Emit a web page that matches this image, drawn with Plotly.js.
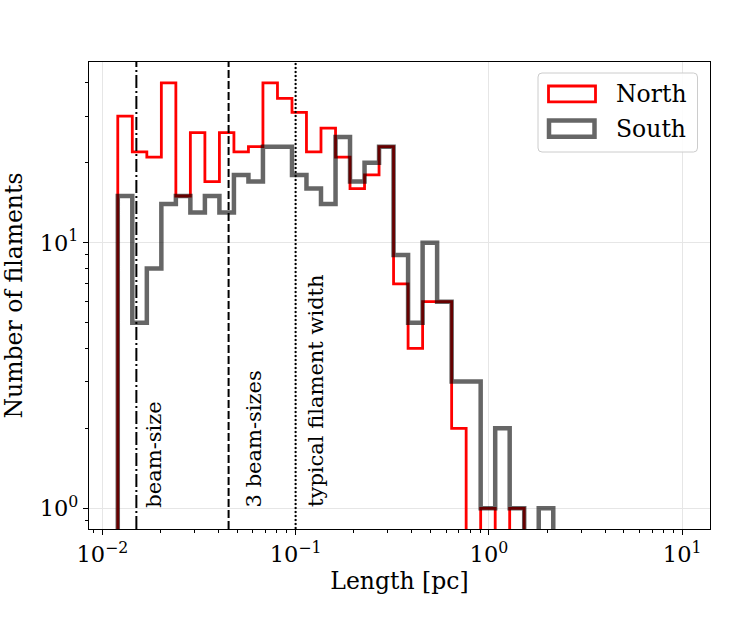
<!DOCTYPE html>
<html><head><meta charset="utf-8">
<script src="https://cdn.plot.ly/plotly-3.0.1.min.js"></script>
<style>html,body{margin:0;padding:0;background:#fff}#chart{width:747px;height:623px}</style>
</head><body><div id="chart"></div>
<script>
// ---- data ----
const binEdges = [0.01202,0.01429,0.01699,0.02020,0.02401,0.02854,0.03393,0.04034,0.04795,0.05701,
                  0.06776,0.08056,0.09577,0.1138,0.1353,0.1609,0.1912,0.2273,0.2702,0.3212,
                  0.3819,0.4540,0.5397,0.6416,0.7627,0.9067,1.078,1.281,1.523,1.811,2.153];
const northCounts = [30,22,21,40,15,26,17,26,22,23,40,35,31,22,27,21,16,18,23,7,4,6,6,2,0,1,0,1,0,0];
const southCounts = [15,5,8,14,15,13,15,13,18,17,23,23,18,16,14,25,17,20,23,9,5,10,6,3,3,1,2,1,0,1];
const seriesNames = ['North','South'];
const refLineValues = [0.015, 0.045, 0.1];
const refLineLabels = ['beam-size','3 beam-sizes','typical filament width'];
const refLineDash = ['13px,3px,2px,3px','8px,3px','2px,2px'];
const refLabelShift = [4, 11, 7];
const xTickVals = [0.01, 0.1, 1, 10];
const xTickText = ['10<sup>\u22122</sup>','10<sup>\u22121</sup>','10<sup>0</sup>','10<sup>1</sup>'];
const yTickVals = [1, 10];
const yTickText = ['10<sup>0</sup>','10<sup>1</sup>'];

const FONT = 'DejaVu Serif, serif';
const FLOOR = 0.01; // zero-count bins drop below the visible range (as a step histogram does on log scale)

function stepPath(edges, counts){
  const xs=[edges[0]], ys=[FLOOR];
  for(let i=0;i<counts.length;i++){
    const c = counts[i] > 0 ? counts[i] : FLOOR;
    xs.push(edges[i], edges[i+1]); ys.push(c, c);
  }
  xs.push(edges[edges.length-1]); ys.push(FLOOR);
  return {x:xs, y:ys};
}
function minorVals(k0, k1){
  const v=[];
  for(let k=k0;k<=k1;k++) for(let d=2; d<=9; d++) v.push(d*Math.pow(10,k));
  return v;
}

const n = stepPath(binEdges, northCounts);
const s = stepPath(binEdges, southCounts);
const traces = [
  {x:n.x, y:n.y, type:'scatter', mode:'lines', name:seriesNames[0], line:{color:'#ff0000', width:2.8}, hoverinfo:'skip', showlegend:false},
  {x:s.x, y:s.y, type:'scatter', mode:'lines', name:seriesNames[1], line:{color:'rgba(0,0,0,0.6)', width:4.5}, hoverinfo:'skip', showlegend:false}
];

// plot-area geometry (px) for paper conversions
const L=89, R=710, T=62, B=529, W=747, H=623;
const px = v => (v-L)/(R-L);
const py = v => (B-v)/(B-T);

const shapes = refLineValues.map((v,i)=>({type:'line', xref:'x', yref:'paper', x0:v, x1:v, y0:0, y1:1,
  line:{color:'black', width:2, dash:refLineDash[i]}, layer:'above'}));

function roundRect(x0,y0,x1,y1,r){
  const rx=r/(R-L), ry=r/(B-T);
  const a=px(x0), b=px(x1), top=py(y0), bot=py(y1);
  return `M${a+rx},${top} L${b-rx},${top} Q${b},${top} ${b},${top-ry} L${b},${bot+ry} Q${b},${bot} ${b-rx},${bot} L${a+rx},${bot} Q${a},${bot} ${a},${bot+ry} L${a},${top-ry} Q${a},${top} ${a+rx},${top} Z`;
}
shapes.push({type:'path', xref:'paper', yref:'paper', path:roundRect(538,73,697.5,152,4),
  fillcolor:'rgba(255,255,255,0.85)', line:{color:'#cccccc', width:1}, layer:'above'});
shapes.push({type:'rect', xref:'paper', yref:'paper', x0:px(548.5), x1:px(595.5), y0:py(86), y1:py(101.8),
  line:{color:'#ff0000', width:2.8}, fillcolor:'rgba(0,0,0,0)', layer:'above'});
shapes.push({type:'rect', xref:'paper', yref:'paper', x0:px(549), x1:px(594.5), y0:py(120.5), y1:py(136.8),
  line:{color:'rgba(0,0,0,0.6)', width:4.5}, fillcolor:'rgba(0,0,0,0)', layer:'above'});

const annotations = refLineValues.map((v,i)=>({x:Math.log10(v), y:0, xref:'x', yref:'y', text:refLineLabels[i],
  textangle:-90, xanchor:'left', yanchor:'bottom', showarrow:false, xshift:refLabelShift[i], yshift:-1,
  font:{family:FONT, size:21, color:'black'}}));
annotations.push({x:px(614), y:py(94), xref:'paper', yref:'paper', text:seriesNames[0], xanchor:'left', yanchor:'middle', showarrow:false, font:{family:FONT, size:23.5, color:'black'}});
annotations.push({x:px(614), y:py(129), xref:'paper', yref:'paper', text:seriesNames[1], xanchor:'left', yanchor:'middle', showarrow:false, font:{family:FONT, size:23.5, color:'black'}});

const axisCommon = {showline:true, mirror:true, linecolor:'black', linewidth:1.1, ticks:'outside', ticklen:5, tickwidth:1.1, tickcolor:'black',
  showgrid:true, gridcolor:'#e6e6e6', gridwidth:1, zeroline:false, tickfont:{family:FONT, size:22.5, color:'black'}, tickmode:'array'};

const layout = {
  width:W, height:H, margin:{l:L, r:W-R, t:T, b:H-B},
  paper_bgcolor:'white', plot_bgcolor:'white', showlegend:false,
  font:{family:FONT, color:'black'},
  xaxis:Object.assign({}, axisCommon, {type:'log', range:[-2.069, 1.144], tickvals:xTickVals, ticktext:xTickText,
    minor:{tickmode:'array', tickvals:minorVals(-3,1), ticks:'outside', ticklen:3, tickcolor:'black', tickwidth:1, showgrid:false},
    title:{text:'Length [pc]', font:{family:FONT, size:23.5, color:'black'}, standoff:6}}),
  yaxis:Object.assign({}, axisCommon, {type:'log', range:[-0.078, 1.6807], tickvals:yTickVals, ticktext:yTickText,
    minor:{tickmode:'array', tickvals:[0.9].concat(minorVals(0,1)), ticks:'outside', ticklen:3, tickcolor:'black', tickwidth:1, showgrid:false},
    title:{text:'Number of filaments', font:{family:FONT, size:23.5, color:'black'}, standoff:12}}),
  shapes:shapes, annotations:annotations
};
Plotly.newPlot('chart', traces, layout, {displayModeBar:false, staticPlot:true});
</script></body></html>
